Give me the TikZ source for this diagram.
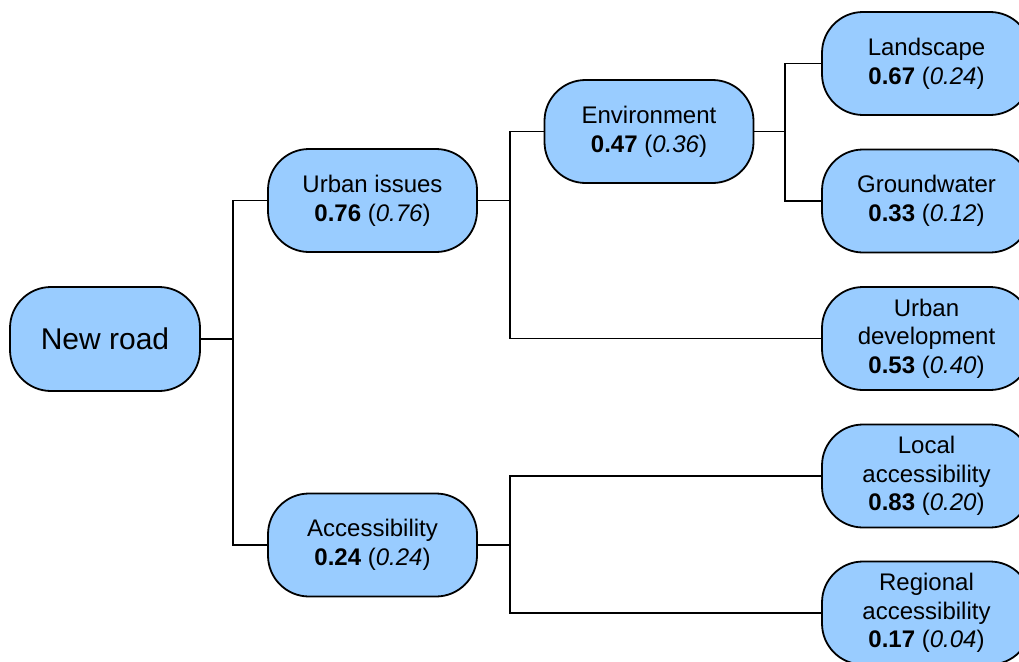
\documentclass[tikz,border=0pt]{standalone}
\usepackage{fontspec}
\setmainfont{Liberation Sans}
\definecolor{boxblue}{HTML}{99CCFF}
\begin{document}
\begin{tikzpicture}[x=1pt,y=-1pt,
  box/.style={draw=black, line width=1.8pt, fill=boxblue, rounded corners=41pt,
    minimum width=209pt, minimum height=103pt, align=center, inner sep=0pt,
    font=\fontsize{24}{28.7}\selectfont},
  rootbox/.style={box, minimum width=190pt, minimum height=104pt,
    font=\fontsize{30}{36}\selectfont},
  link/.style={draw=black, line width=1.8pt}]
\useasboundingbox (0,0) rectangle (1019,661);

\node[rootbox] (root) at (105,339) {New road};
\node[box] (ui) at (372.5,200.5) {Urban issues\\\textbf{0.76} (\textit{0.76})};
\node[box] (acc) at (372.5,545) {Accessibility\\\textbf{0.24} (\textit{0.24})};
\node[box] (env) at (649,131.5) {Environment\\\textbf{0.47} (\textit{0.36})};
\node[box] (land) at (926.5,63.5) {Landscape\\\textbf{0.67} (\textit{0.24})};
\node[box] (ground) at (926.5,201) {Groundwater\\\textbf{0.33} (\textit{0.12})};
\node[box] (udev) at (926.5,338.5) {Urban\\development\\\textbf{0.53} (\textit{0.40})};
\node[box] (local) at (926.5,476) {Local\\accessibility\\\textbf{0.83} (\textit{0.20})};
\node[box] (reg) at (926.5,613) {Regional\\accessibility\\\textbf{0.17} (\textit{0.04})};

\coordinate (j1) at (233,339);
\coordinate (j2) at (510,200.5);
\coordinate (j3) at (785,131.5);
\coordinate (j4) at (510,545);

\draw[link] (root.east) -- (j1);
\draw[link] (ui.west) -| (j1) |- (acc.west);
\draw[link] (ui.east) -- (j2);
\draw[link] (env.west) -| (j2) |- (udev.west);
\draw[link] (env.east) -- (j3);
\draw[link] (land.west) -| (j3) |- (ground.west);
\draw[link] (acc.east) -- (j4);
\draw[link] (local.west) -| (j4) |- (reg.west);
\end{tikzpicture}
\end{document}
